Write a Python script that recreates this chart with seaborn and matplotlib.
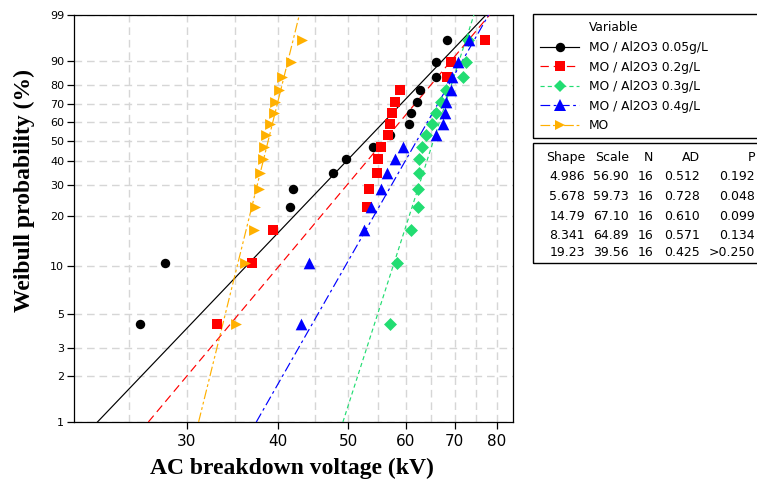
import numpy as np
import pandas as pd
import matplotlib
matplotlib.use("Agg")
import matplotlib.pyplot as plt
import seaborn as sns
from matplotlib.lines import Line2D
from matplotlib.patches import Rectangle
from matplotlib.ticker import FixedLocator, NullLocator, NullFormatter

# ---------------- data ----------------
series_labels = ["MO / Al2O3 0.05g/L", "MO / Al2O3 0.2g/L", "MO / Al2O3 0.3g/L",
                 "MO / Al2O3 0.4g/L", "MO"]
v_005 = [25.9, 28.0, 41.6, 41.6, 42.0, 47.6, 49.6, 54.0, 57.1, 60.6, 60.9, 62.2, 62.8, 65.9, 66.1, 68.4]
v_02 = [33.0, 36.9, 39.4, 53.0, 53.4, 54.8, 54.9, 55.4, 56.7, 57.1, 57.4, 58.0, 58.9, 68.4, 69.3, 77.0]
v_03 = [57.0, 58.4, 61.0, 62.3, 62.4, 62.5, 62.6, 63.1, 64.0, 65.2, 66.0, 67.0, 68.2, 71.8, 72.6, 73.0]
v_04 = [43.1, 44.1, 52.6, 53.8, 55.4, 56.6, 58.0, 59.4, 66.0, 67.5, 68.0, 68.2, 69.3, 69.5, 70.8, 73.2]
v_mo = [35.1, 36.1, 37.1, 37.2, 37.7, 37.8, 38.2, 38.3, 38.6, 39.0, 39.5, 39.6, 40.2, 40.6, 41.7, 43.2]

shape = [4.986, 5.678, 14.79, 8.341, 19.23]
scale = [56.90, 59.73, 67.10, 64.89, 39.56]
n_obs = [16, 16, 16, 16, 16]
ad_vals = ["0.512", "0.728", "0.610", "0.571", "0.425"]
p_vals = ["0.192", "0.048", "0.099", "0.134", ">0.250"]
shape_txt = ["4.986", "5.678", "14.79", "8.341", "19.23"]
scale_txt = ["56.90", "59.73", "67.10", "64.89", "39.56"]

x_ticks = [30, 40, 50, 60, 70, 80]
x_minor = [25, 35, 45, 55, 65, 75]
y_ticks = [1, 2, 3, 5, 10, 20, 30, 40, 50, 60, 70, 80, 90, 99]

# ---------------- styles ----------------
colors = ["#000000", "#FF0000", "#22DD72", "#0000FF", "#FFB000"]
markers = ["o", "s", "D", "^", ">"]
msizes = [6.8, 6.5, 6.6, 8.4, 7.8]
dashes = ["-", (0, (6, 3.5)), (0, (3, 2.2)), (0, (7, 2.5, 2, 2.5)), (0, (7, 2, 2, 2, 2, 2))]

plt.rcParams["font.family"] = ["DejaVu Sans"]
plt.rcParams["lines.scale_dashes"] = False

W, H = 757, 483
fig = plt.figure(figsize=(W / 100, H / 100), dpi=100)
ax = fig.add_axes([74 / W, (H - 422) / H, 439 / W, 407 / H])


def fwd(p):
    p = np.clip(np.asarray(p, dtype=float), 1e-9, 100 - 1e-9)
    return np.log(-np.log1p(-p / 100.0))


def inv(y):
    y = np.asarray(y, dtype=float)
    return 100.0 * (-np.expm1(-np.exp(y)))


ax.set_xscale("log")
ax.set_yscale("function", functions=(fwd, inv))

all_vals = [v_005, v_02, v_03, v_04, v_mo]
yy = np.linspace(fwd(1.0), fwd(99.0), 300)
pp = inv(yy)

for i, vals in enumerate(all_vals):
    v = np.sort(np.asarray(vals, dtype=float))
    n = len(v)
    pct = (np.arange(1, n + 1) - 0.3) / (n + 0.4) * 100
    pts = pd.DataFrame({"v": v, "p": pct}).groupby("v", as_index=False)["p"].max()
    fit = pd.DataFrame({"x": scale[i] * (-np.log1p(-pp / 100)) ** (1 / shape[i]), "p": pp})
    sns.lineplot(data=fit, x="x", y="p", ax=ax, color=colors[i], linewidth=0.85,
                 linestyle=dashes[i], estimator=None, sort=False, zorder=3)
    sns.scatterplot(data=pts, x="v", y="p", ax=ax, color=colors[i], marker=markers[i],
                    s=msizes[i] ** 2, linewidth=0, zorder=4, legend=False)

ax.set_xlim(21.0, 84.2)
ax.set_ylim(1, 99)

ax.xaxis.set_major_locator(FixedLocator(x_ticks))
ax.set_xticklabels([str(t) for t in x_ticks])
ax.xaxis.set_minor_locator(FixedLocator(x_minor))
ax.xaxis.set_minor_formatter(NullFormatter())
ax.yaxis.set_major_locator(FixedLocator(y_ticks))
ax.set_yticklabels([str(t) for t in y_ticks])
ax.yaxis.set_minor_locator(NullLocator())

ax.tick_params(axis="x", which="major", length=5, width=0.9, labelsize=11, pad=4)
ax.tick_params(axis="x", which="minor", length=0)
ax.tick_params(axis="y", which="major", length=5, width=0.9, labelsize=8, pad=2)

grid_kw = dict(color="#D6D6D6", linewidth=1.0, linestyle=(0, (5.5, 3.5)))
ax.grid(True, axis="x", which="both", **grid_kw)
ax.grid(True, axis="y", which="major", **grid_kw)
ax.set_axisbelow(True)
for sp in ax.spines.values():
    sp.set_color("black")
    sp.set_linewidth(0.9)

lab_font = dict(family="Liberation Serif", weight="bold", size=17)
ax.set_xlabel("AC breakdown voltage (kV)", fontdict=lab_font, va="center")
ax.xaxis.set_label_coords(0.497, -0.115)
ax.set_ylabel("Weibull probability (%)", fontdict=lab_font, va="center")
ax.yaxis.set_label_coords(-0.112, 0.570)

# ---------------- legend ----------------
handles = [Line2D([], [], linestyle="none")]
labels = ["Variable"]
for i in range(5):
    handles.append(Line2D([], [], color=colors[i], linestyle=dashes[i], linewidth=0.85,
                          marker=markers[i], markersize=msizes[i], markeredgewidth=0))
    labels.append(series_labels[i])
ax.legend(handles, labels, loc="upper left", bbox_to_anchor=(533 / W, 1 - 14 / H),
          bbox_transform=fig.transFigure, frameon=False, fontsize=8.8,
          borderaxespad=0, borderpad=0.6, handlelength=3.2, handletextpad=0.8,
          labelspacing=0.54)
fig.add_artist(Rectangle((533 / W, (H - 138) / H), 240 / W, 124 / H, transform=fig.transFigure,
                         fill=False, edgecolor="black", linewidth=1.0))

# ---------------- stats table ----------------
fig.add_artist(Rectangle((533 / W, (H - 263) / H), 240 / W, 120 / H, transform=fig.transFigure,
                         fill=False, edgecolor="black", linewidth=1.0))
col_x = [585, 629, 653, 700, 755]
headers = ["Shape", "Scale", "N", "AD", "P"]
row_y = [157.7, 176.7, 196.7, 216, 235, 253]
for cx, h in zip(col_x, headers):
    fig.text(cx / W, 1 - row_y[0] / H, h, ha="right", va="center", fontsize=9)
for r in range(5):
    row = [shape_txt[r], scale_txt[r], str(n_obs[r]), ad_vals[r], p_vals[r]]
    for cx, s in zip(col_x, row):
        fig.text(cx / W, 1 - row_y[r + 1] / H, s, ha="right", va="center", fontsize=9)

fig.savefig("out.png", dpi=100)
